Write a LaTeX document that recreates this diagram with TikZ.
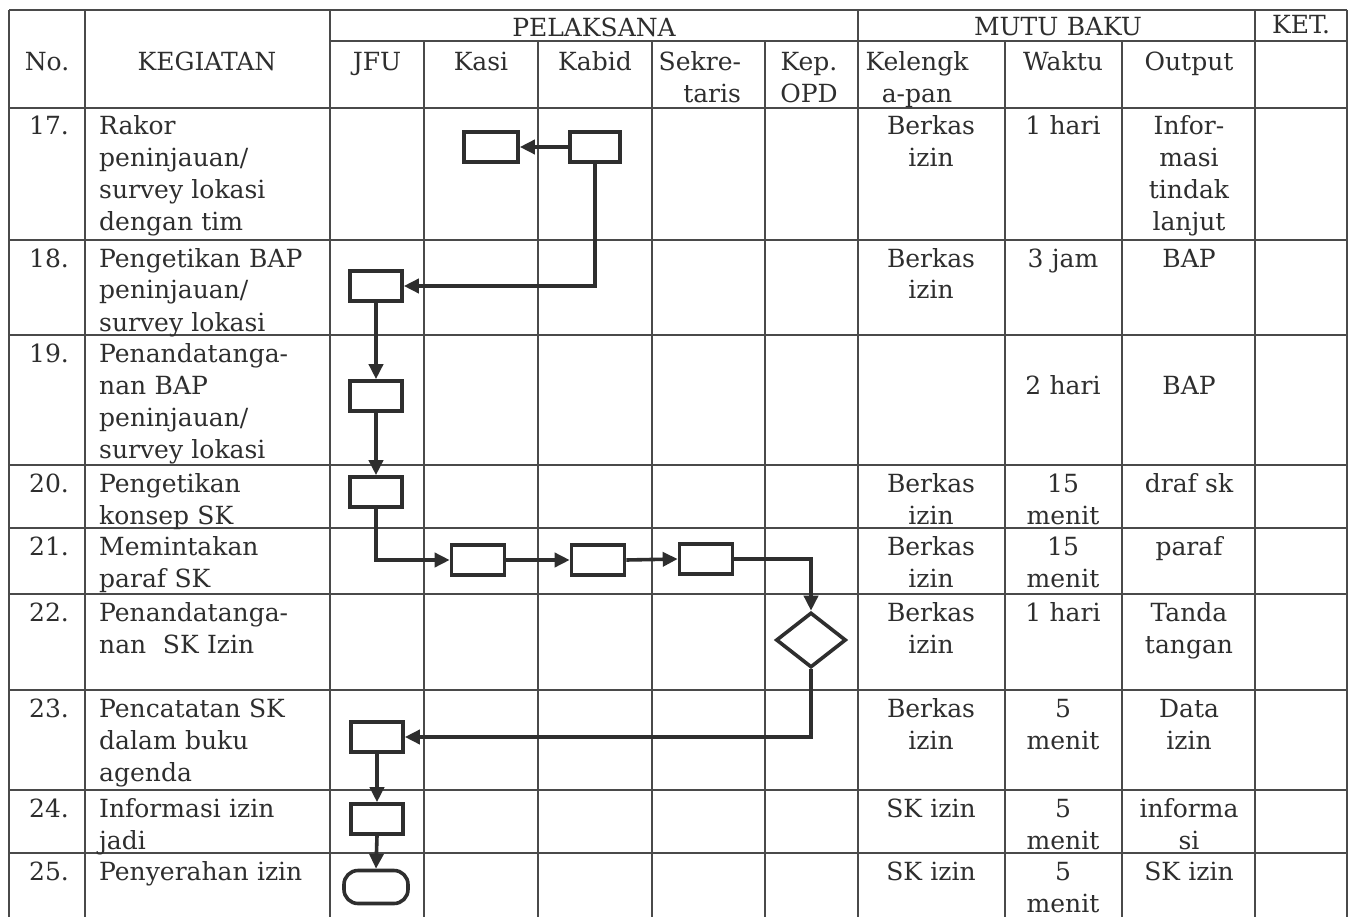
\documentclass[tikz,border=0pt]{standalone}
\usepackage{fontspec}
\setmainfont{DejaVu Serif}
\usetikzlibrary{arrows.meta,shapes.geometric}
\definecolor{ink}{HTML}{2E2E2E}
\definecolor{gridc}{HTML}{4A4A4A}
\begin{document}
\begin{tikzpicture}[x=1pt,y=-1pt,
  gridline/.style={draw=gridc,line width=1.5pt},
  txt/.style={inner sep=0pt,anchor=base,font=\fontsize{25}{32}\selectfont,text=ink,align=center,text width=#1},
  txt/.default=110pt,
  ltxt/.style={inner sep=0pt,anchor=base west,font=\fontsize{25}{32}\selectfont,text=ink,align=left,text width=240pt},
  box/.style={draw=ink,line width=3.6pt,minimum width=52pt,minimum height=30pt,inner sep=0pt},
  decision/.style={draw=ink,line width=3.6pt,diamond,minimum width=70pt,minimum height=55pt,inner sep=0pt},
  terminal/.style={draw=ink,line width=3.6pt,rounded corners=14pt,minimum width=64pt,minimum height=33pt,inner sep=0pt},
  conn/.style={draw=ink,line width=3.6pt,-{Triangle[length=15pt,width=14pt]}},
]
\useasboundingbox (0,0) rectangle (1356,917);
\fill[white] (0,0) rectangle (1356,917);
% grid
\draw[gridline] (9,10) -- (1347,10);
\draw[gridline] (330,41) -- (1347,41);
\foreach \yy in {108,240,335,465,528,594,690,790,853}
  \draw[gridline] (9,\yy) -- (1347,\yy);
\foreach \xx in {9,85,330,858,1255,1347}
  \draw[gridline] (\xx,10) -- (\xx,917);
\foreach \xx in {424,538,652,765,1005,1122}
  \draw[gridline] (\xx,41) -- (\xx,917);
% header
\node[txt=300pt] (hpel) at (594,37) {PELAKSANA};
\node[txt=300pt] (hmutu) at (1058,36) {MUTU BAKU};
\node[txt=90pt] (hket) at (1301,34) {KET.};
\node[txt=76pt] (hno) at (47,71) {No.};
\node[txt=240pt] (hkeg) at (207,71) {KEGIATAN};
\node[txt=94pt] (hjfu) at (377,71) {JFU};
\node[txt] (hkasi) at (481,71) {Kasi};
\node[txt] (hkabid) at (595,71) {Kabid};
\node[txt=100pt,align=right] (hsek) at (691,71) {Sekre-\\taris};
\node[txt=92pt] (hkep) at (809,71) {Kep.\\OPD};
\node[txt=146pt] (hkel) at (917,71) {Kelengk\\a-pan};
\node[txt] (hwak) at (1063,71) {Waktu};
\node[txt=130pt] (hout) at (1189,71) {Output};
% rows
\node[txt=76pt] (n17) at (49,135) {17.};
\node[ltxt] (g17) at (99,135) {Rakor\\peninjauan/\\survey lokasi\\dengan tim};
\node[txt=146pt] (l17) at (931,135) {Berkas\\izin};
\node[txt] (w17) at (1063,135) {1 hari};
\node[txt=130pt] (o17) at (1189,135) {Infor-\\masi\\tindak\\lanjut};

\node[txt=76pt] (n18) at (49,267) {18.};
\node[ltxt] (g18) at (99,267) {Pengetikan BAP\\peninjauan/\\survey lokasi};
\node[txt=146pt] (l18) at (931,267) {Berkas\\izin};
\node[txt] (w18) at (1063,267) {3 jam};
\node[txt=130pt] (o18) at (1189,267) {BAP};

\node[txt=76pt] (n19) at (49,362) {19.};
\node[ltxt] (g19) at (99,362) {Penandatanga-\\nan BAP\\peninjauan/\\survey lokasi};
\node[txt] (w19) at (1063,394) {2 hari};
\node[txt=130pt] (o19) at (1189,394) {BAP};

\node[txt=76pt] (n20) at (49,492) {20.};
\node[ltxt] (g20) at (99,492) {Pengetikan\\konsep SK};
\node[txt=146pt] (l20) at (931,492) {Berkas\\izin};
\node[txt] (w20) at (1063,492) {15\\menit};
\node[txt=130pt] (o20) at (1189,492) {draf sk};

\node[txt=76pt] (n21) at (49,555) {21.};
\node[ltxt] (g21) at (99,555) {Memintakan\\paraf SK};
\node[txt=146pt] (l21) at (931,555) {Berkas\\izin};
\node[txt] (w21) at (1063,555) {15\\menit};
\node[txt=130pt] (o21) at (1189,555) {paraf};

\node[txt=76pt] (n22) at (49,621) {22.};
\node[ltxt] (g22) at (99,621) {Penandatanga-\\nan\ \ SK Izin};
\node[txt=146pt] (l22) at (931,621) {Berkas\\izin};
\node[txt] (w22) at (1063,621) {1 hari};
\node[txt=130pt] (o22) at (1189,621) {Tanda\\tangan};

\node[txt=76pt] (n23) at (49,717) {23.};
\node[ltxt] (g23) at (99,717) {Pencatatan SK\\dalam buku\\agenda};
\node[txt=146pt] (l23) at (931,717) {Berkas\\izin};
\node[txt] (w23) at (1063,717) {5\\menit};
\node[txt=130pt] (o23) at (1189,717) {Data\\izin};

\node[txt=76pt] (n24) at (49,817) {24.};
\node[ltxt] (g24) at (99,817) {Informasi izin\\jadi};
\node[txt=146pt] (l24) at (931,817) {SK izin};
\node[txt] (w24) at (1063,817) {5\\menit};
\node[txt=130pt] (o24) at (1189,817) {informa\\si};

\node[txt=76pt] (n25) at (49,880) {25.};
\node[ltxt] (g25) at (99,880) {Penyerahan izin};
\node[txt=146pt] (l25) at (931,880) {SK izin};
\node[txt] (w25) at (1063,880) {5\\menit};
\node[txt=130pt] (o25) at (1189,880) {SK izin};
% flow shapes
\node[box,minimum width=54pt] (a17) at (491,147) {};
\node[box,minimum width=50pt] (k17) at (595,147) {};
\node[box] (j18) at (376,286) {};
\node[box] (j19) at (376,396) {};
\node[box] (j20) at (376,492) {};
\node[box,minimum width=53pt] (b21) at (478,560) {};
\node[box,minimum width=53pt] (c21) at (598,560) {};
\node[box,minimum width=53pt] (d21) at (706,559) {};
\node[decision] (dia) at (811,640) {};
\node[box] (j23) at (377,737) {};
\node[box] (j24) at (377,819) {};
\node[terminal] (t25) at (376,887) {};
% connectors
\draw[conn] (k17.west) -- (a17.east);
\draw[conn] (k17.south) |- (j18.east);
\draw[conn] (j18.south) -- (j19.north);
\draw[conn] (j19.south) -- (j20.north);
\draw[conn] (j20.south) |- (b21.west);
\draw[conn] (b21.east) -- (c21.west);
\draw[conn] (c21.east) -- (d21.west);
\draw[conn] (d21.east) -| (dia.north);
\draw[conn] (dia.south) |- (j23.east);
\draw[conn] (j23.south) -- (j24.north);
\draw[conn] (j24.south) -- (t25.north);
\end{tikzpicture}
\end{document}
